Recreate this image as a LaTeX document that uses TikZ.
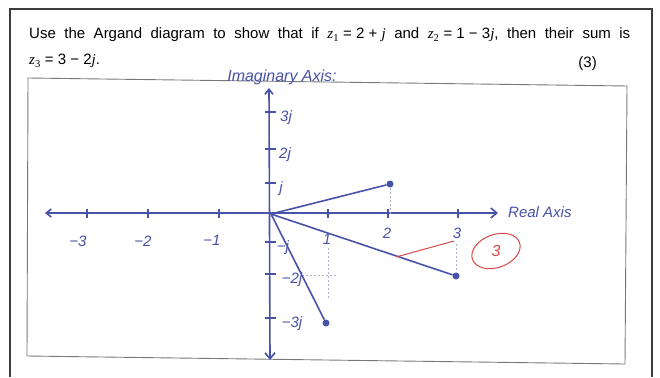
\documentclass[tikz,border=0pt]{standalone}
\usepackage{fontspec}
\setmainfont{Liberation Sans}
\newfontfamily\tmsfont{Liberation Serif}
\usetikzlibrary{arrows.meta,shapes.geometric}
\definecolor{ink}{RGB}{72,82,168}
\definecolor{redink}{RGB}{218,72,72}
\definecolor{framecol}{RGB}{60,60,60}
\definecolor{boxcol}{RGB}{120,120,120}
\newcommand{\zv}[1]{{\tmsfont\itshape z}\textsubscript{\tmsfont #1}}
\newcommand{\jv}{{\tmsfont\itshape j}}
\begin{document}
\begin{tikzpicture}[x=1pt,y=-1pt,
  printed/.style={inner sep=0pt,font=\fontsize{15}{17}\selectfont,text=black},
  hand/.style={inner sep=0pt,text=ink,font=\itshape\fontsize{15}{15}\selectfont},
  axisline/.style={draw=ink,line width=1.6pt},
  tick/.style={draw=ink,line width=1.2pt},
  vec/.style={draw=ink,line width=1.6pt},
  pt/.style={circle,fill=ink,inner sep=0pt,minimum size=7pt},
  guide/.style={draw=ink!45,line width=0.7pt,dash pattern=on 2pt off 2pt},
  redmark/.style={draw=redink,line width=1pt}]
\useasboundingbox (0,0) rectangle (660,377);
\fill[white] (0,0) rectangle (660,377);
% frames
\draw[framecol,line width=1.3pt] (10,377) -- (10,9) -- (652,9) -- (652,377);
\draw[boxcol,line width=0.9pt] (28,78) -- (627,86) -- (625,364) -- (27,356) -- cycle;
% printed question
\node[printed,anchor=base west] (q1) at (29,39)
  {\hbox to 601pt{Use the Argand diagram to show that if \mbox{\zv{1} = 2 + \jv} and \mbox{\zv{2} = 1 − 3\jv,} then their sum is}};
\node[printed,anchor=base west] (q2) at (29,65) {\zv{3} = 3 − 2\jv.};
\node[printed,anchor=base east] (mk) at (597,68) {(3)};
% axes
\coordinate (O) at (271,214);
\coordinate (XL) at (45,213);
\coordinate (XR) at (498,213);
\coordinate (YT) at (269,88);
\coordinate (YB) at (270,360);
\draw[axisline,{Straight Barb[length=5pt,width=8pt]}-{Straight Barb[length=6pt,width=10pt]}] (XL) -- (XR);
\draw[axisline,{Straight Barb[length=5pt,width=8pt]}-{Straight Barb[length=6pt,width=10pt]}] (YT) -- (YB);
\node[hand,anchor=base,font=\itshape\fontsize{16}{16}\selectfont] (ylab) at (282,82) {Imaginary Axis:};
\node[hand,anchor=west] (xlab) at (508,212) {Real Axis};
% real ticks
\foreach \xx/\lab/\ly in {87/−3/241,148/−2/241,219/−1/240,328/1/239,388/2/233,458/3/233}{
  \draw[tick] (\xx,209) -- (\xx,218);
}
\node[hand] (lm3) at (78,241) {−3};
\node[hand] (lm2) at (143,241) {−2};
\node[hand] (lm1) at (212,240) {−1};
\node[hand] (lp1) at (327,239) {1};
\node[hand] (lp2) at (387,233) {2};
\node[hand] (lp3) at (457,233) {3};
% imaginary ticks
\foreach \yy/\lab/\lx in {112/3j/286,149/2j/285,183/j/281,242/−j/283,274/−2j/292,318/−3j/292}{
  \draw[tick] (265,\yy) -- (276,\yy);
  \node[hand] at (\lx,\yy+6) {\lab};
}
% points
\node[pt] (z1) at (390,184) {};
\node[pt] (z2) at (326,323) {};
\node[pt] (z3) at (456,276) {};
% construction guides
\draw[guide] (z1) -- (z1 |- O);
\draw[guide] (456,244) -- (z3);
\draw[guide] (328,248) -- (328,298);
\draw[guide] (302,275) -- (336,275);
% vectors
\draw[vec] (O) -- (z1);
\draw[vec] (O) -- (z2);
\draw[vec] (O) -- (z3);
% examiner mark
\coordinate (r1) at (396,257);
\coordinate (r2) at (454,241);
\draw[redmark] (r1) -- (r2);
\node[draw=redink,line width=1pt,ellipse,minimum width=50pt,minimum height=33pt,rotate=20] (mark) at (496,251) {};
\node[text=redink,font=\itshape\fontsize{16}{16}\selectfont,inner sep=0pt] at (mark.center) {3};
\end{tikzpicture}
\end{document}
